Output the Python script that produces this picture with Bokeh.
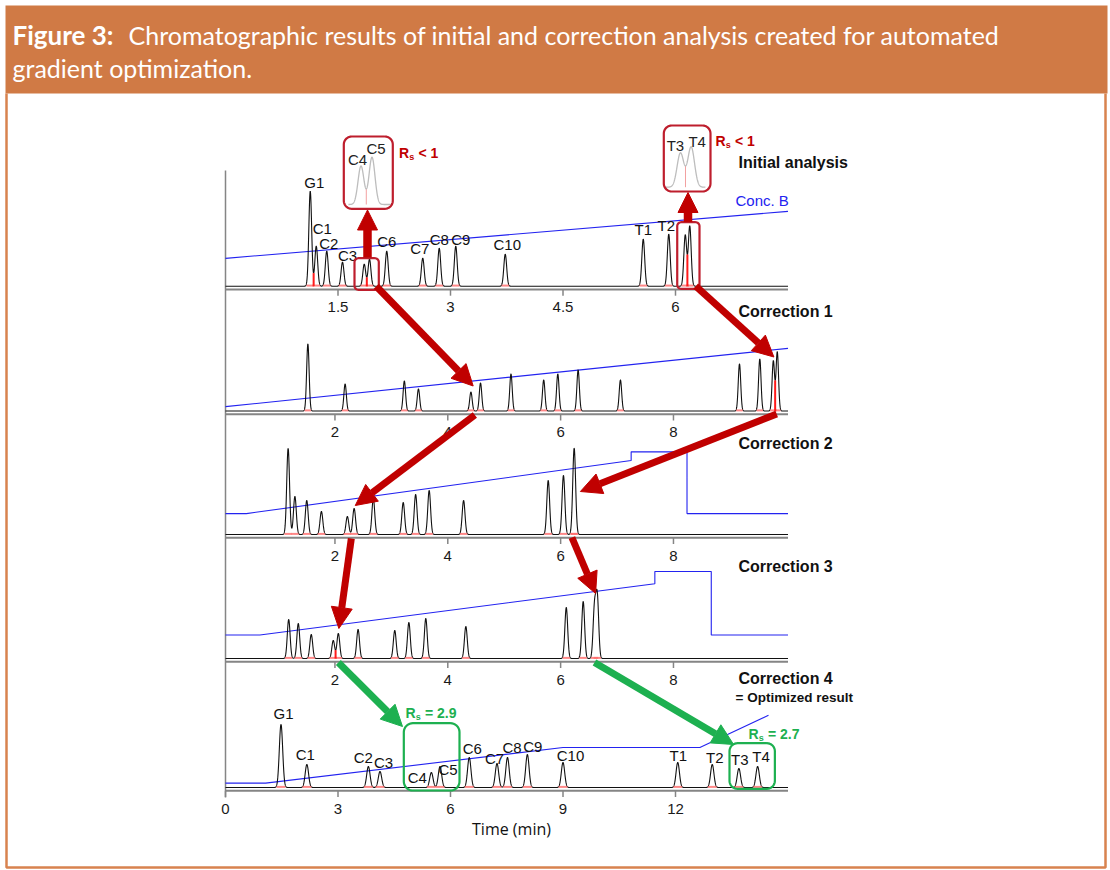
import numpy as np
from bokeh.plotting import figure
from bokeh.models import Range1d, Arrow, NormalHead
from bokeh.core.properties import value
from bokeh.embed import file_html
from bokeh.resources import INLINE

# ---------------- data ----------------
panel_titles = ["Initial analysis", "Correction 1", "Correction 2", "Correction 3", "Correction 4"]
view_start = [0.0, 0.06, 0.06, 0.06, 0.0]                     # min, at the left axis
view_end = [7.5, 10.03, 10.03, 10.03, 15.0]                    # min, at the right end
tick_values = [[1.5, 3, 4.5, 6], [2, 4, 6, 8], [2, 4, 6, 8], [2, 4, 6, 8], [0, 3, 6, 9, 12]]
tick_labels = [["1.5", "3", "4.5", "6"], ["2", "4", "6", "8"], ["2", "4", "6", "8"],
               ["2", "4", "6", "8"], ["0", "3", "6", "9", "12"]]
peak_sd = [0.019, 0.022, 0.025, 0.025, 0.045]                  # min

# Initial analysis
init_names = ["G1", "C1", "C2", "C3", "C4", "C5", "C6", "C7", "C8", "C9", "C10", "T1", "T2", "T3", "T4"]
init_rt = [1.13, 1.21, 1.35, 1.56, 1.85, 1.92, 2.15, 2.63, 2.85, 3.07, 3.73, 5.57, 5.91, 6.13, 6.19]
init_height = [95, 40, 35, 24, 22, 27, 35, 28, 38, 40, 32, 47, 52, 51, 60]

# Correction 1
corr1_rt = [1.52, 2.18, 3.23, 3.48, 4.41, 4.58, 5.12, 5.70, 5.95, 6.31, 7.06, 9.17, 9.53, 9.77, 9.84]
corr1_height = [67, 27, 30, 22, 19, 28, 37, 31, 37, 41, 31, 47, 52, 50, 59]

# Correction 2
corr2_rt = [1.17, 1.29, 1.50, 1.76, 2.22, 2.34, 2.68, 3.21, 3.43, 3.67, 4.28, 5.78, 6.05, 6.235, 6.245]
corr2_height = [86, 38, 34, 23, 18, 26, 36, 32, 40, 44, 34, 54, 59, 44, 44]

# Correction 3
corr3_rt = [1.18, 1.35, 1.58, 1.97, 2.06, 2.41, 3.06, 3.31, 3.61, 4.32, 6.10, 6.40, 6.60, 6.65]
corr3_height = [39, 35, 24, 18, 25, 29, 28, 36, 40, 32, 51, 57, 50, 60]

# Correction 4 = optimized result
corr4_names = ["G1", "C1", "C2", "C3", "C4", "C5", "C6", "C7", "C8", "C9", "C10", "T1", "T2", "T3", "T4"]
corr4_rt = [1.48, 2.17, 3.81, 4.12, 5.49, 5.72, 6.50, 7.24, 7.52, 8.05, 9.00, 12.06, 12.98, 13.69, 14.19]
corr4_height = [63, 23, 21, 16, 15, 21, 30, 24, 30, 33, 25, 25, 23, 19, 21]

# Gradient programmes (Conc. B, %)
grad0_t = [0, 7.5]
grad0_b = [32, 86]
grad1_t = [0.06, 10.03]
grad1_b = [5, 72]
grad2_t = [0.06, 0.43, 7.25, 7.25, 8.24, 8.24, 10.03]
grad2_b = [24, 24, 85, 95, 95, 24, 24]
grad3_t = [0.06, 0.67, 7.67, 7.67, 8.67, 8.67, 10.03]
grad3_b = [27, 27, 86, 100, 100, 27, 27]
grad4_t = [0, 1.07, 9.0, 12.65, 14.48]
grad4_b = [5, 5, 46, 46, 83]

peaks_rt = [init_rt, corr1_rt, corr2_rt, corr3_rt, corr4_rt]
peaks_h = [init_height, corr1_height, corr2_height, corr3_height, corr4_height]
grads = [(grad0_t, grad0_b), (grad1_t, grad1_b), (grad2_t, grad2_b), (grad3_t, grad3_b), (grad4_t, grad4_b)]

# ---------------- layout (page pixels) ----------------
W, H = 1110, 870
X0, Y0 = 0, 0
PX_LEFT, PX_RIGHT = 225.0, 787.5
baseline_px = [285.7, 410.5, 534.0, 658.0, 787.0]
B_PX = 0.87                      # px per % B
FONT = value("Liberation Sans")

RED = "#C00000"
BOXRED = "#BE1E2D"
GREEN = "#1DB050"
GRAY = "#858585"
BLUE = "#2323F0"

p = figure(width=W, height=H, x_range=Range1d(X0, X0 + W), y_range=Range1d(Y0 + H, Y0),
           output_backend="svg", toolbar_location=None, x_axis_location=None,
           y_axis_location=None, min_border=0, outline_line_color=None)
p.xgrid.visible = False
p.ygrid.visible = False
p.background_fill_color = "white"
p.border_fill_color = "white"


def px_per_min(k):
    return (PX_RIGHT - PX_LEFT) / (view_end[k] - view_start[k])


for k in range(5):
    s = px_per_min(k)
    v0 = view_start[k]
    p.extra_x_ranges[f"t{k}"] = Range1d(v0 + (X0 - PX_LEFT) / s, v0 + (X0 + W - PX_LEFT) / s)
    yb = baseline_px[k]
    p.extra_y_ranges[f"s{k}"] = Range1d(yb - (Y0 + H), yb - Y0)
    p.extra_y_ranges[f"b{k}"] = Range1d((yb - (Y0 + H)) / B_PX, (yb - Y0) / B_PX)


def to_px(k, t, h):
    return PX_LEFT + (t - view_start[k]) * px_per_min(k), baseline_px[k] - h


def trace(rt, hh, sd, t):
    y = np.zeros_like(t)
    for r, h in zip(rt, hh):
        y += h * np.exp(-0.5 * ((t - r) / sd) ** 2)
    return y


def rounded(x0, y0, x1, y1, r):
    xs, ys = [], []
    corners = [(x1 - r, y0 + r, -90, 0), (x1 - r, y1 - r, 0, 90),
               (x0 + r, y1 - r, 90, 180), (x0 + r, y0 + r, 180, 270)]
    for cx, cy, a0, a1 in corners:
        a = np.radians(np.linspace(a0, a1, 10))
        xs += list(cx + r * np.cos(a))
        ys += list(cy + r * np.sin(a))
    xs.append(xs[0]); ys.append(ys[0])
    return xs, ys


# ---------------- header ----------------
p.quad(left=5, right=1107, top=5, bottom=93, fill_color="#D07A45", line_color=None)
p.text(x=[12], y=[34], text=["Figure 3:"], text_font=value("Lato"), text_font_style="bold",
       text_font_size="26px", text_color="white", text_baseline="middle")
p.text(x=[128], y=[34], text=["Chromatographic results of initial and correction analysis created for automated"],
       text_font=value("Lato"), text_font_size="25px", text_color="white", text_baseline="middle")
p.text(x=[12], y=[67], text=["gradient optimization."], text_font=value("Lato"),
       text_font_size="25px", text_color="white", text_baseline="middle")
# body frame
p.line(x=[6, 6, 1105, 1105], y=[93, 867, 867, 93], line_color="#D8834F", line_width=2.5)

# ---------------- panels ----------------
p.line(x=[PX_LEFT, PX_LEFT], y=[170, 797], line_color=GRAY, line_width=1.5)

for k in range(5):
    xr, yr, br = f"t{k}", f"s{k}", f"b{k}"
    v0, v1 = view_start[k], view_end[k]
    sd = peak_sd[k]
    t = np.linspace(v0, v1, 6000)
    y = trace(peaks_rt[k], peaks_h[k], sd, t)
    # gradient
    gt, gb = grads[k]
    p.line(x=gt, y=gb, x_range_name=xr, y_range_name=br, line_color=BLUE, line_width=1.1)
    # axis line + ticks
    p.line(x=[v0, v1], y=[-3.3, -3.3], x_range_name=xr, y_range_name=yr, line_color=GRAY, line_width=2)
    tv = tick_values[k]
    p.segment(x0=tv, y0=[-3.3] * len(tv), x1=tv, y1=[-9.5] * len(tv), x_range_name=xr,
              y_range_name=yr, line_color=GRAY, line_width=1.5)
    p.text(x=tv, y=[-21] * len(tv), text=tick_labels[k], x_range_name=xr, y_range_name=yr,
           text_font=FONT, text_font_size="15px", text_color="#1a1a1a", text_align="center",
           text_baseline="middle")
    # chromatogram
    p.line(x=t, y=y, x_range_name=xr, y_range_name=yr, line_color="#111111", line_width=1.1)
    # integration marks
    rt = np.array(peaks_rt[k])
    p.segment(x0=rt - 2.6 * sd, y0=[0.6] * len(rt), x1=rt + 2.6 * sd, y1=[0.6] * len(rt),
              x_range_name=xr, y_range_name=yr, line_color="#FF6A6A", line_width=2, line_alpha=0.8)
    # drop lines between partly resolved peaks
    dx, dy = [], []
    for a, b in zip(rt[:-1], rt[1:]):
        if b - a < 4.5 * sd:
            m = (t > a) & (t < b)
            if m.sum() > 2:
                i = np.argmin(y[m])
                tv_ = t[m][i]
                if y[m][i] < 0.95 * min(np.interp(a, t, y), np.interp(b, t, y)):
                    dx.append(tv_); dy.append(y[m][i])
    if dx:
        p.segment(x0=dx, y0=[0] * len(dx), x1=dx, y1=dy, x_range_name=xr, y_range_name=yr,
                  line_color="#FF1A1A", line_width=2)

# panel titles
p.text(x=[738] * 5, y=[162, 311, 443, 566, 678], text=panel_titles, text_font=FONT,
       text_font_style="bold", text_font_size="16px", text_color="#111111", text_baseline="middle")
p.text(x=[735], y=[697], text=["= Optimized result"], text_font=FONT, text_font_style="bold",
       text_font_size="13.5px", text_color="#111111", text_baseline="middle")
p.text(x=[735], y=[200], text=["Conc. B"], text_font=FONT, text_font_size="15px",
       text_color=BLUE, text_baseline="middle")
p.text(x=[511], y=[828], text=["Time (min)"], text_font=value("Open Sans"), text_font_size="16px",
       text_color="#111111", text_align="center", text_baseline="middle")

# ---------------- peak labels ----------------
init_shown = ["G1", "C1", "C2", "C3", "C6", "C7", "C8", "C9", "C10", "T1", "T2"]
init_off = [(4, -9), (6, -18), (2, -8), (5, -7), (0, -10), (-3, -10), (0, -9), (5, -7), (2, -10), (0, -10), (-2.5, -8.5)]
idx = [init_names.index(n) for n in init_shown]
p.text(x=[init_rt[i] for i in idx], y=[init_height[i] for i in idx], text=init_shown,
       x_offset=[o[0] for o in init_off], y_offset=[o[1] for o in init_off],
       x_range_name="t0", y_range_name="s0", text_font=FONT, text_font_size="15px",
       text_color="#111111", text_align="center", text_baseline="middle")

corr4_off = [(2.5, -11), (-1.5, -10), (-5, -9), (3.5, -9), (-14, 5), (8, 3), (3, -9), (-2.5, -5),
             (4.5, -10), (5.5, -8), (7.5, -7), (0.5, -7.5), (2.5, -7.5), (1, -9), (3.5, -10)]
p.text(x=corr4_rt, y=corr4_height, text=corr4_names,
       x_offset=[o[0] for o in corr4_off], y_offset=[o[1] for o in corr4_off],
       x_range_name="t4", y_range_name="s4", text_font=FONT, text_font_size="15px",
       text_color="#111111", text_align="center", text_baseline="middle")

# ---------------- insets (zoomed C4/C5 and T3/T4 of initial analysis) ----------------
insets = [  # (names, centre time, px centre, px/min, baseline px, y scale, t window, label offsets)
    (["C4", "C5"], 1.885, 366.0, 157.0, 204.0, 1.75, (1.77, 2.04), [(-3.5, -7), (4, -9)]),
    (["T3", "T4"], 6.16, 685.3, 178.0, 186.7, 0.67, (6.046, 6.27), [(-5, -8), (6, -6)]),
]
for j, (names, tc, xc, spm, yb, ys, win, offs) in enumerate(insets):
    p.extra_x_ranges[f"i{j}x"] = Range1d(tc + (X0 - xc) / spm, tc + (X0 + W - xc) / spm)
    p.extra_y_ranges[f"i{j}y"] = Range1d((yb - (Y0 + H)) / ys, (yb - Y0) / ys)
    ti = np.linspace(win[0], win[1], 400)
    yi = trace(init_rt, init_height, peak_sd[0], ti)
    ii = [init_names.index(n) for n in names]
    a, b = init_rt[ii[0]], init_rt[ii[1]]
    m = (ti > a) & (ti < b)
    vi = np.argmin(yi[m])
    p.segment(x0=[ti[m][vi]], y0=[0], x1=[ti[m][vi]], y1=[yi[m][vi]], x_range_name=f"i{j}x",
              y_range_name=f"i{j}y", line_color="#F2A0A0", line_width=1)
    p.line(x=ti, y=yi, x_range_name=f"i{j}x", y_range_name=f"i{j}y", line_color="#BDBDBD", line_width=1.3)
    p.text(x=[init_rt[i] for i in ii], y=[init_height[i] for i in ii], text=names,
           x_offset=[o[0] for o in offs], y_offset=[o[1] for o in offs],
           x_range_name=f"i{j}x", y_range_name=f"i{j}y", text_font=FONT, text_font_size="15px",
           text_color="#222222", text_align="center", text_baseline="middle")

for (x0, y0, x1, y1, r) in [(343.3, 136, 392.3, 208.3, 8), (663.3, 125, 710, 191, 8)]:
    xs, ys_ = rounded(x0, y0, x1, y1, r)
    p.line(x=xs, y=ys_, line_color=BOXRED, line_width=2.2)

# ---------------- highlight boxes (panel data coords) ----------------
hl_boxes = [(0, 1.72, 2.044, -3.6, 28, 4, BOXRED), (0, 6.023, 6.32, -2.6, 64, 4, BOXRED),
            (4, 4.755, 6.24, -3, 64.3, 9, GREEN), (4, 13.44, 14.65, -1.3, 44.3, 8, GREEN)]
for k, ta, tb, ha, hb, r, c in hl_boxes:
    xa, ya = to_px(k, ta, hb)
    xb, yb_ = to_px(k, tb, ha)
    xs, ys_ = rounded(xa, ya, xb, yb_, r)
    p.line(x=xs, y=ys_, line_color=c, line_width=2.2)

# ---------------- arrows ----------------
arrows = [(0, 2.01, 0, 1, 4.45, 25, RED), (0, 6.27, 0, 1, 9.78, 54, RED),
          (1, 4.48, -4, 2, 2.36, 29, RED), (1, 9.83, -3, 2, 6.35, 43, RED),
          (2, 2.29, -4, 3, 2.07, 30, RED), (2, 6.2, -3, 3, 6.62, 65, RED),
          (3, 2.06, -4, 4, 4.72, 61, GREEN), (3, 6.6, -4, 4, 13.55, 43, GREEN)]
for k0, t0, h0, k1, t1, h1, c in arrows:
    xa, ya = to_px(k0, t0, h0)
    xb, yb_ = to_px(k1, t1, h1)
    p.add_layout(Arrow(end=NormalHead(size=21, fill_color=c, line_color=c, line_width=1),
                       x_start=xa, y_start=ya, x_end=xb, y_end=yb_, line_color=c, line_width=7))
# up arrows from highlighted peaks to insets
for (xa, ya, yb_) in [(367, 257, 209.5), (687.5, 221.5, 192)]:
    p.add_layout(Arrow(end=NormalHead(size=20, fill_color=RED, line_color=RED, line_width=1),
                       x_start=xa, y_start=ya, x_end=xa, y_end=yb_, line_color=RED, line_width=8.5))


# ---------------- resolution labels ----------------
def rs_label(x, y, rest, color):
    p.text(x=[x], y=[y], text=["R"], text_font=FONT, text_font_style="bold", text_font_size="14px",
           text_color=color, text_baseline="middle")
    p.text(x=[x + 10.2], y=[y + 4], text=["s"], text_font=FONT, text_font_style="bold",
           text_font_size="9px", text_color=color, text_baseline="middle")
    p.text(x=[x + 19.5], y=[y], text=[rest], text_font=FONT, text_font_style="bold",
           text_font_size="14px", text_color=color, text_baseline="middle")


rs_label(398.5, 152, "< 1", RED)
rs_label(715, 140, "< 1", RED)
rs_label(405, 712, "= 2.9", GREEN)
rs_label(748, 733, "= 2.7", GREEN)

open("out.html", "w").write(file_html(p, INLINE))
